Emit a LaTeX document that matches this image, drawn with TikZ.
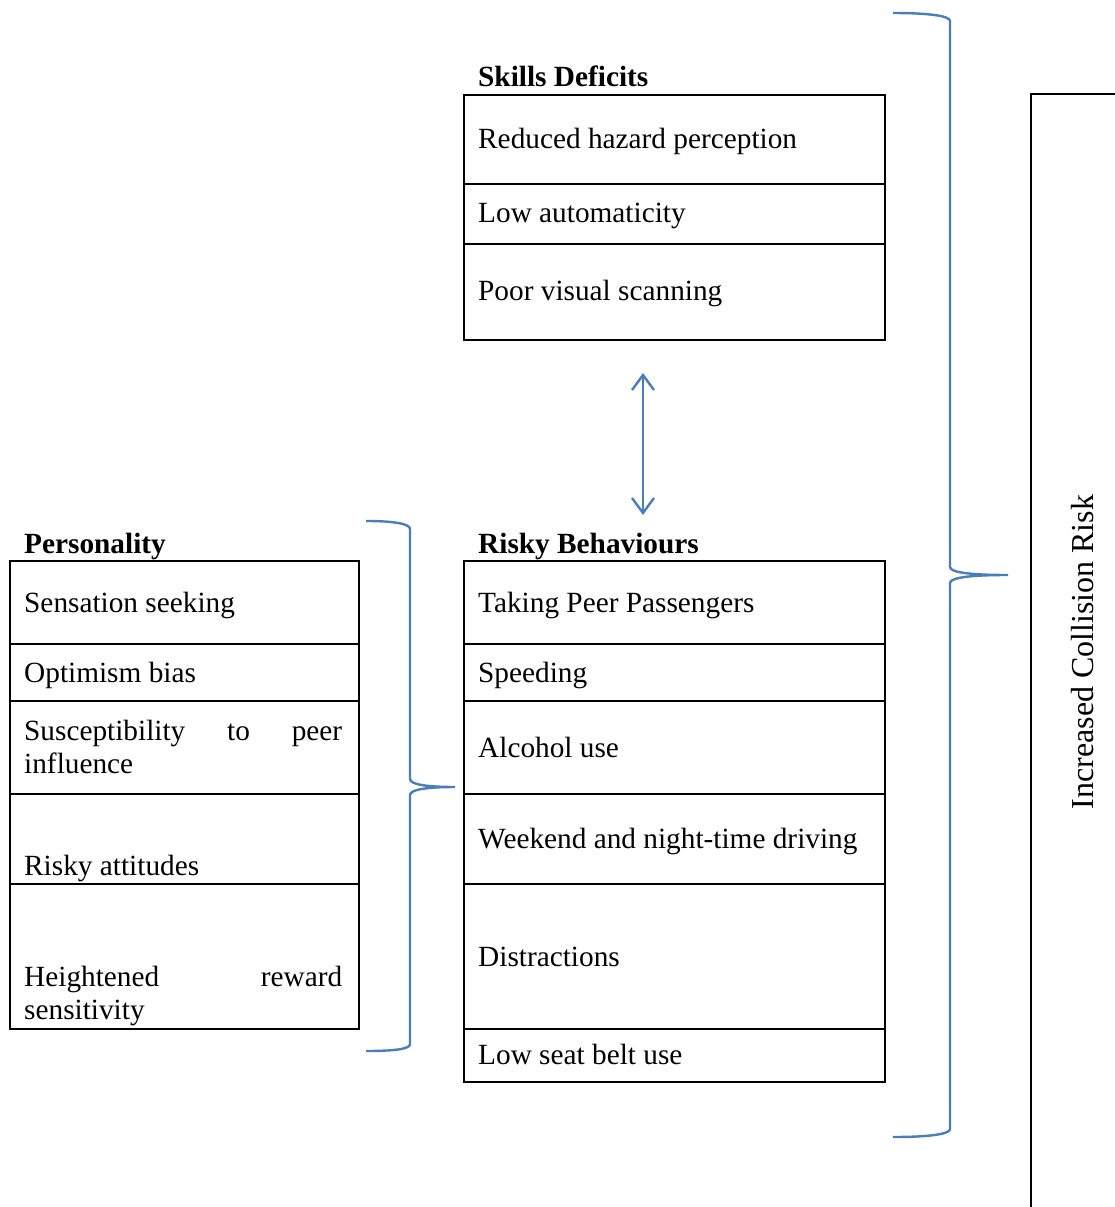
\documentclass[tikz,border=0pt]{standalone}
\usepackage{fontspec}
\setmainfont{Liberation Serif}
\usetikzlibrary{arrows.meta}
\definecolor{bracecol}{RGB}{74,126,187}
\begin{document}
\begin{tikzpicture}[x=1pt,y=-1pt,
  cell/.style={draw=black, line width=2.2pt, inner sep=0pt, anchor=north west, rectangle},
  txt/.style={inner sep=0pt, anchor=base west, font=\fontsize{29.3}{33}\selectfont},
  ttl/.style={inner sep=0pt, anchor=base west, font=\fontsize{29.3}{33}\selectfont\bfseries},
  bluebrace/.style={draw=bracecol, line width=2.4pt},
  bluearrow/.style={draw=bracecol, line width=2.4pt, {Straight Barb[length=15pt,width=22pt]}-{Straight Barb[length=15pt,width=22pt]}}]
\useasboundingbox (0,0) rectangle (1114,1207);
\fill[white] (0,0) rectangle (1114,1207);

% Skills Deficits
\node[ttl] (sdt) at (478,86) {Skills Deficits};
\node[cell, minimum width=421pt, minimum height=89pt] (sd1) at (463,94) {};
\node[cell, minimum width=421pt, minimum height=60pt] (sd2) at (463,183) {};
\node[cell, minimum width=421pt, minimum height=96pt] (sd3) at (463,243) {};
\node[txt] (sdx1) at (478,148) {Reduced hazard perception};
\node[txt] (sdx2) at (478,222) {Low automaticity};
\node[txt] (sdx3) at (478,300) {Poor visual scanning};

% Personality
\node[ttl] (pt) at (24,553) {Personality};
\node[cell, minimum width=349pt, minimum height=83pt] (p1) at (9,560) {};
\node[cell, minimum width=349pt, minimum height=57pt] (p2) at (9,643) {};
\node[cell, minimum width=349pt, minimum height=93pt] (p3) at (9,700) {};
\node[cell, minimum width=349pt, minimum height=90pt] (p4) at (9,793) {};
\node[cell, minimum width=349pt, minimum height=145pt] (p5) at (9,883) {};
\node[txt] (px1) at (24,612) {Sensation seeking};
\node[txt] (px2) at (24,682) {Optimism bias};
\node[txt] (px3) at (24,773) {\parbox[b]{318pt}{Susceptibility\hfill to\hfill peer\\influence}};
\node[txt] (px4) at (24,875) {Risky attitudes};
\node[txt] (px5) at (24,1019) {\parbox[b]{318pt}{Heightened\hfill reward\\sensitivity}};

% Risky Behaviours
\node[ttl] (rt) at (478,553) {Risky Behaviours};
\node[cell, minimum width=421pt, minimum height=83pt] (r1) at (463,560) {};
\node[cell, minimum width=421pt, minimum height=57pt] (r2) at (463,643) {};
\node[cell, minimum width=421pt, minimum height=93pt] (r3) at (463,700) {};
\node[cell, minimum width=421pt, minimum height=90pt] (r4) at (463,793) {};
\node[cell, minimum width=421pt, minimum height=145pt] (r5) at (463,883) {};
\node[cell, minimum width=421pt, minimum height=53pt] (r6) at (463,1028) {};
\node[txt] (rx1) at (478,612) {Taking Peer Passengers};
\node[txt] (rx2) at (478,682) {Speeding};
\node[txt] (rx3) at (478,757) {Alcohol use};
\node[txt] (rx4) at (478,848) {Weekend and night-time driving};
\node[txt] (rx5) at (478,966) {Distractions};
\node[txt] (rx6) at (478,1064) {Low seat belt use};

% Increased Collision Risk box
\node[cell, minimum width=110pt, minimum height=1140pt] (cr) at (1030,93) {};
\node[inner sep=0pt, rotate=90, anchor=base, font=\fontsize{32}{36}\selectfont] (crt) at (1093,652) {Increased Collision Risk};

% double arrow between Skills Deficits and Risky Behaviours
\coordinate (aTop) at (643,373);
\coordinate (aBot) at (643,515);
\draw[bluearrow] (aTop) -- (aBot);

% left brace (Personality -> Risky Behaviours)
\coordinate (lbTop) at (366,521);
\coordinate (lbTip) at (455,787);
\coordinate (lbBot) at (366,1051);
\draw[bluebrace] (lbTop) .. controls (395,521) and (410,524) .. (410,529)
  -- (410,779) .. controls (410,785) and (430,787) .. (lbTip)
  .. controls (430,787) and (410,789) .. (410,795)
  -- (410,1044) .. controls (410,1049) and (395,1051) .. (lbBot);

% right brace (all -> Increased Collision Risk)
\coordinate (rbTop) at (893,13);
\coordinate (rbTip) at (1008,575);
\coordinate (rbBot) at (893,1137);
\draw[bluebrace] (rbTop) .. controls (930,13) and (950,16) .. (950,21)
  -- (950,567) .. controls (950,573) and (975,575) .. (rbTip)
  .. controls (975,575) and (950,577) .. (950,583)
  -- (950,1129) .. controls (950,1134) and (930,1137) .. (rbBot);
\end{tikzpicture}
\end{document}
